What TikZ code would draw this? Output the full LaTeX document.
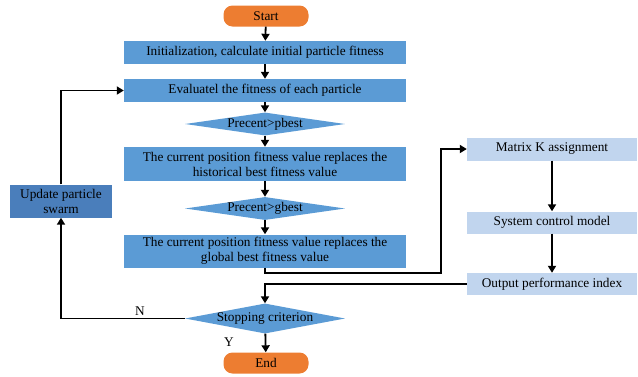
\documentclass[tikz,border=0pt]{standalone}
\usepackage{fontspec}
\setmainfont{Liberation Serif}
\usetikzlibrary{shapes.geometric,arrows.meta}
\definecolor{boxblue}{RGB}{91, 155, 213}
\definecolor{darkblue}{RGB}{74, 126, 187}
\definecolor{paleblue}{RGB}{193, 213, 238}
\definecolor{termorange}{RGB}{237, 125, 49}

\begin{document}
\begin{tikzpicture}[x=1pt, y=-1pt, font=\fontsize{13.3}{15}\selectfont,
    stepbox/.style={fill=boxblue, minimum width=282pt, minimum height=23pt, align=center, inner sep=1pt},
    sidebox/.style={fill=paleblue, minimum width=170pt, minimum height=23pt, inner sep=1pt},
    term/.style={fill=termorange, rounded corners=9pt, minimum width=85pt, minimum height=21pt, inner sep=1pt},
    test/.style={diamond, fill=boxblue, aspect=7, inner sep=0pt, minimum width=160pt, minimum height=23pt},
    link/.style={line width=1.8pt, -{Triangle[length=7pt, width=8pt]}}]
      \useasboundingbox (0,0) rectangle (638,376);
      % main column
      \node[term] (start) at (266,16) {Start};
      \node[stepbox] (init) at (265,52.5) {Initialization, calculate initial particle fitness};
      \node[stepbox] (eval) at (265,90.5) {Evaluatel the fitness of each particle};
      \node[test, label=center:{Precent>pbest}] (pbest) at (265,124) {};
      \node[stepbox, minimum height=34pt] (repl) at (265,164) {The current position fitness value replaces the\\historical best fitness value};
      \node[test, label=center:{Precent>gbest}] (gbest) at (265,208.5) {};
      \node[stepbox, minimum height=33pt] (repg) at (265,251) {The current position fitness value replaces the\\global best fitness value};
      \node[test, minimum height=30pt, label=center:{Stopping criterion}] (stop) at (265,318.5) {};
      \node[term] (finish) at (266,363) {End};
      % swarm update
      \node[stepbox, fill=darkblue, minimum width=102pt, minimum height=33pt] (upd) at (61,201) {Update particle\\swarm};
      % right column
      \node[sidebox] (mat) at (552,149) {Matrix K assignment};
      \node[sidebox, minimum height=22pt] (sys) at (552,222.5) {System control model};
      \node[sidebox, minimum height=22pt] (out) at (552,284) {Output performance index};
      \coordinate (turn) at (441,273);
      % arrows
      \draw[link] (start) -- (init);
      \draw[link] (init) -- (eval);
      \draw[link] (eval) -- (pbest);
      \draw[link] (pbest) -- (repl);
      \draw[link] (repl) -- (gbest);
      \draw[link] (gbest) -- (repg);
      \draw[link] (stop) -- (finish);
      \draw[link] (repg.south) |- (turn) |- (mat.west);
      \draw[link] (mat) -- (sys);
      \draw[link] (sys) -- (out);
      \draw[link] (out.west) -| (stop.north);
      \draw[link] (stop.west) -| (upd.south);
      \draw[link] (upd.north) |- (eval.west);
      \node at (140,311) {N};
      \node at (229,342) {Y};
    \end{tikzpicture}
\end{document}
